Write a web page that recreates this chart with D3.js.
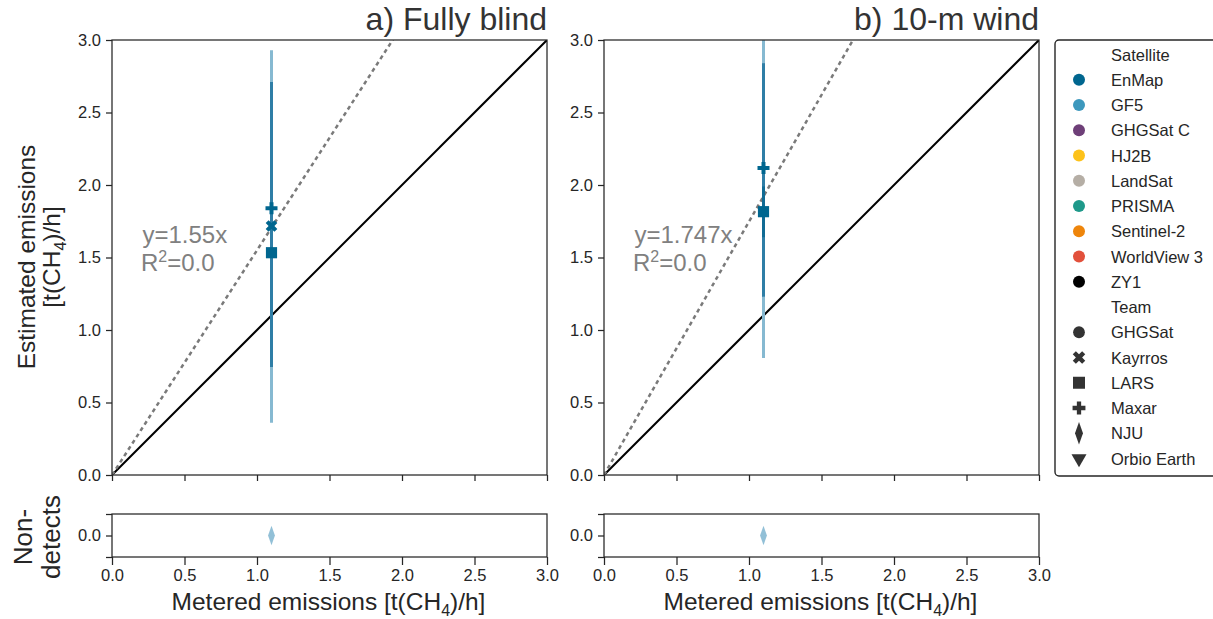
<!DOCTYPE html>
<html>
<head>
<meta charset="utf-8">
<script src="https://cdnjs.cloudflare.com/ajax/libs/d3/7.8.5/d3.min.js"></script>
<style>
  body { margin: 0; background: #fff; }
  svg text { font-family: "Liberation Sans", Arial, sans-serif; fill: #262626; }
  .axis path, .axis line { stroke: #262626; stroke-width: 1.25; }
  .axis text { font-size: 16.5px; fill: #262626; }
</style>
</head>
<body>
<div id="chart"></div>
<script>
// ---- data ----
var panelTitles = ["a) Fully blind", "b) 10-m wind"];
var fitSlopes = [1.55, 1.747];
var fitR2 = ["0.0", "0.0"];
var axisTicks = [0, 0.5, 1.0, 1.5, 2.0, 2.5, 3.0];

var satellites = ["EnMap", "GF5", "GHGSat C", "HJ2B", "LandSat", "PRISMA", "Sentinel-2", "WorldView 3", "ZY1"];
var satColors = ["#00668f", "#3d98bd", "#6e3f78", "#fdc21a", "#b5aea5", "#1e998a", "#ee850b", "#e2503b", "#000000"];
var teams = ["GHGSat", "Kayrros", "LARS", "Maxar", "NJU", "Orbio Earth"];

// detections: metered x, estimated y
var blindPoints = [
    {team: "Maxar", satellite: "EnMap", x: 1.1, y: 1.84},
    {team: "Kayrros", satellite: "EnMap", x: 1.1, y: 1.717},
    {team: "LARS", satellite: "EnMap", x: 1.1, y: 1.533}
];
var windPoints = [
    {team: "Maxar", satellite: "EnMap", x: 1.1, y: 2.117},
    {team: "LARS", satellite: "EnMap", x: 1.1, y: 1.816}
];
// uncertainty ranges [x, low, high]
var blindBars = [[1.1, 0.36, 2.93], [1.1, 0.745, 2.71]];
var windBars = [[1.1, 0.807, 3.3], [1.1, 1.23, 2.84], [1.1, 1.64, 1.99]];
// non-detects
var blindMisses = [{team: "NJU", satellite: "GF5", x: 1.1, y: 0}];
var windMisses = [{team: "NJU", satellite: "GF5", x: 1.1, y: 0}];

// ---- layout ----
var W = 1213, H = 619;
var panelX = [112, 604];
var panelW = 435;
var topY = 40, mainH = 435;
var lowTop = 514, lowH = 43;
var barColors = ["#86b9d1", "#2f7ea6", "#116b94"];

var svg = d3.select("#chart").append("svg")
    .attr("width", W).attr("height", H);

var color = d3.scaleOrdinal().domain(satellites).range(satColors);

var symbolFor = {
    "GHGSat": {type: d3.symbolCircle, size: 95, rot: 0},
    "Kayrros": {type: d3.symbolCross, size: 85, rot: 45},
    "LARS": {type: d3.symbolSquare, size: 125, rot: 0},
    "Maxar": {type: d3.symbolCross, size: 80, rot: 0},
    "NJU": {type: d3.symbolDiamond, size: 75, rot: 0, sx: 0.8, sy: 1.3},
    "Orbio Earth": {type: d3.symbolTriangle, size: 85, rot: 180}
};

function marker(sel, team, x, y, fill, k) {
    var s = symbolFor[team];
    var tr = "translate(" + x + "," + y + ") rotate(" + s.rot + ")";
    if (s.sx) tr += " scale(" + s.sx + "," + s.sy + ")";
    sel.append("path")
        .attr("d", d3.symbol().type(s.type).size(s.size * (k || 1))())
        .attr("transform", tr)
        .attr("fill", fill);
}

var allPoints = [blindPoints, windPoints];
var allBars = [blindBars, windBars];
var allMisses = [blindMisses, windMisses];

panelTitles.forEach(function(title, p) {
    var x = d3.scaleLinear().domain([0, 3]).range([panelX[p], panelX[p] + panelW]);
    var y = d3.scaleLinear().domain([0, 3]).range([topY + mainH, topY]);
    var yLow = d3.scaleLinear().domain([-0.1, 0.1]).range([lowTop + lowH, lowTop]);

    var clipId = "clip" + p;
    svg.append("clipPath").attr("id", clipId)
        .append("rect")
        .attr("x", panelX[p]).attr("y", topY)
        .attr("width", panelW).attr("height", mainH);

    var g = svg.append("g").attr("clip-path", "url(#" + clipId + ")");

    // 1:1 line
    g.append("line")
        .attr("x1", x(0)).attr("y1", y(0))
        .attr("x2", x(3)).attr("y2", y(3))
        .attr("stroke", "#000").attr("stroke-width", 2);

    // fitted line
    g.append("line")
        .attr("x1", x(0)).attr("y1", y(0))
        .attr("x2", x(3)).attr("y2", y(3 * fitSlopes[p]))
        .attr("stroke", "#7a7a7a").attr("stroke-width", 2.5)
        .attr("stroke-dasharray", "4,3.5");

    // error bars
    g.selectAll(".ebar").data(allBars[p]).enter().append("line")
        .attr("x1", function(d) { return x(d[0]); })
        .attr("x2", function(d) { return x(d[0]); })
        .attr("y1", function(d) { return y(d[1]); })
        .attr("y2", function(d) { return y(d[2]); })
        .attr("stroke", function(d, i) { return barColors[i]; })
        .attr("stroke-width", 3);

    allPoints[p].forEach(function(d) {
        marker(g, d.team, x(d.x), y(d.y), color(d.satellite));
    });

    // fit annotation
    svg.append("text")
        .attr("x", x(0.21)).attr("y", 243)
        .style("font-size", "24px").style("fill", "#808080")
        .text("y=" + fitSlopes[p] + "x");
    var r2 = svg.append("text")
        .attr("x", x(0.2)).attr("y", 271)
        .style("font-size", "24px").style("fill", "#808080");
    r2.append("tspan").text("R");
    r2.append("tspan").attr("dy", -9).style("font-size", "16px").text("2");
    r2.append("tspan").attr("dy", 9).text("=" + fitR2[p]);

    // frame
    svg.append("rect")
        .attr("x", panelX[p]).attr("y", topY)
        .attr("width", panelW).attr("height", mainH)
        .attr("fill", "none").attr("stroke", "#262626").attr("stroke-width", 1.25);

    // axes
    svg.append("g").attr("class", "axis")
        .attr("transform", "translate(" + panelX[p] + ",0)")
        .call(d3.axisLeft(y).tickValues(axisTicks).tickFormat(d3.format(".1f")).tickSize(6).tickPadding(5))
        .call(function(a) { a.select(".domain").remove(); });
    svg.append("g").attr("class", "axis")
        .attr("transform", "translate(0," + (topY + mainH) + ")")
        .call(d3.axisBottom(x).tickValues(axisTicks).tickFormat("").tickSize(6))
        .call(function(a) { a.select(".domain").remove(); });

    // title
    svg.append("text")
        .attr("x", panelX[p] + panelW).attr("y", 30)
        .attr("text-anchor", "end")
        .style("font-size", "32px").style("fill", "#333")
        .text(title);

    // non-detects panel
    var low = svg.append("g");
    allMisses[p].forEach(function(d) {
        marker(low, d.team, x(d.x), yLow(d.y), "#92c0d7", 0.85);
    });
    svg.append("rect")
        .attr("x", panelX[p]).attr("y", lowTop)
        .attr("width", panelW).attr("height", lowH)
        .attr("fill", "none").attr("stroke", "#262626").attr("stroke-width", 1.25);
    svg.append("g").attr("class", "axis")
        .attr("transform", "translate(" + panelX[p] + ",0)")
        .call(d3.axisLeft(yLow).tickValues([-0.1, 0, 0.1])
            .tickFormat(function(v) { return v === 0 ? "0.0" : ""; }).tickSize(6).tickPadding(5))
        .call(function(a) { a.select(".domain").remove(); });
    svg.append("g").attr("class", "axis")
        .attr("transform", "translate(0," + (lowTop + lowH) + ")")
        .call(d3.axisBottom(x).tickValues(axisTicks).tickFormat(d3.format(".1f")).tickSize(8).tickPadding(4))
        .call(function(a) { a.select(".domain").remove(); });

    // x label
    var xl = svg.append("text")
        .attr("x", panelX[p] + panelW / 2 - 1).attr("y", 610)
        .attr("text-anchor", "middle")
        .style("font-size", "24.5px");
    xl.append("tspan").text("Metered emissions [t(CH");
    xl.append("tspan").attr("dy", 6).style("font-size", "16px").text("4");
    xl.append("tspan").attr("dy", -6).text(")/h]");
});

// y labels
var yl = svg.append("g").attr("transform", "translate(0,257) rotate(-90)");
yl.append("text").attr("x", 0).attr("y", 35)
    .attr("text-anchor", "middle").style("font-size", "24.5px")
    .text("Estimated emissions");
var yl2 = yl.append("text").attr("x", 0).attr("y", 60)
    .attr("text-anchor", "middle").style("font-size", "24.5px");
yl2.append("tspan").text("[t(CH");
yl2.append("tspan").attr("dy", 6).style("font-size", "16px").text("4");
yl2.append("tspan").attr("dy", -6).text(")/h]");

var nl = svg.append("g").attr("transform", "translate(0,537) rotate(-90)");
nl.append("text").attr("x", 0).attr("y", 32)
    .attr("text-anchor", "middle").style("font-size", "26px").text("Non-");
nl.append("text").attr("x", 0).attr("y", 60)
    .attr("text-anchor", "middle").style("font-size", "26px").text("detects");

// legend
var leg = svg.append("g");
leg.append("rect")
    .attr("x", 1055).attr("y", 40).attr("width", 175).attr("height", 436)
    .attr("rx", 4).attr("fill", "#fff")
    .attr("stroke", "#262626").attr("stroke-width", 1.4);

var legendRows = [{label: "Satellite"}]
    .concat(satellites.map(function(s) { return {label: s, sat: s}; }))
    .concat([{label: "Team"}])
    .concat(teams.map(function(t) { return {label: t, team: t}; }));

var rowY = d3.scaleLinear().domain([0, legendRows.length - 1]).range([54.5, 458.5]);

legendRows.forEach(function(r, i) {
    var cy = rowY(i);
    if (r.sat) {
        leg.append("circle").attr("cx", 1079).attr("cy", cy).attr("r", 6)
            .attr("fill", color(r.sat));
    } else if (r.team) {
        marker(leg, r.team, 1079, cy, "#333", 1.15);
    }
    leg.append("text")
        .attr("x", 1111).attr("y", cy + 6)
        .style("font-size", "16.5px")
        .text(r.label);
});
</script>
</body>
</html>
